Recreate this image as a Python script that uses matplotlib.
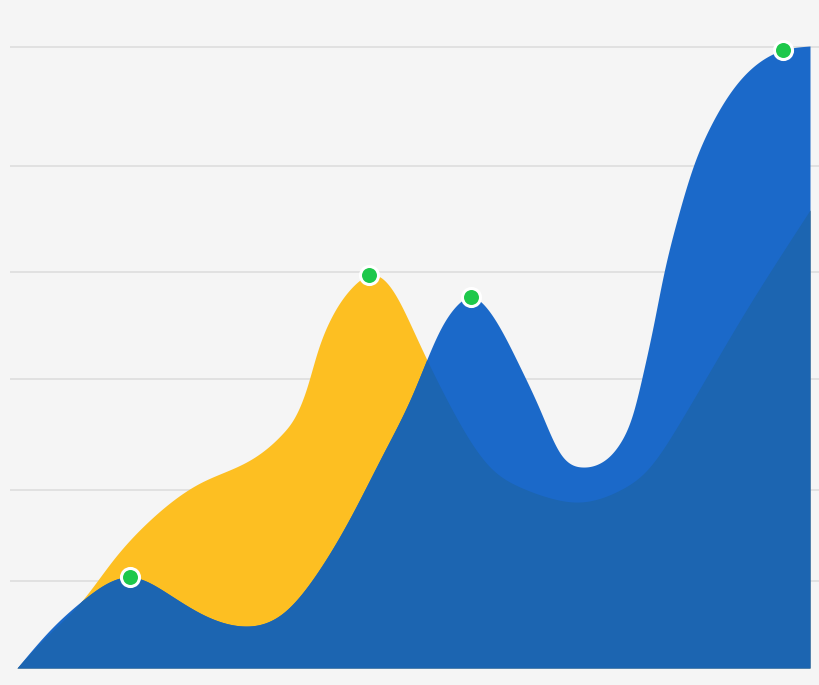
import numpy as np
import matplotlib
matplotlib.use("Agg")
import matplotlib.pyplot as plt

# Series values (x along the chart, y above the baseline)
blue_x = [0, 33, 66, 113, 150, 183, 226, 266, 300, 333, 366, 396, 423, 441, 454,
          468, 503, 523, 543, 565, 583, 603, 616, 626, 636, 646, 660, 676, 693,
          723, 750, 766, 793]
blue_y = [0, 38, 68, 91, 75, 55, 42, 55, 95, 150, 214, 275, 338, 364, 371,
          362, 301, 258, 215, 201, 205, 225, 255, 295, 341, 391, 448, 501, 541,
          588, 611, 618, 622]

yellow_x = [0, 31, 63, 96, 133, 183, 233, 266, 276, 290, 300, 313, 330, 343, 352,
            370, 383, 396, 410, 430, 473, 503, 530, 563, 603, 630, 663, 696, 728,
            760, 793]
yellow_y = [0, 33, 65, 108, 148, 185, 208, 235, 248, 281, 315, 348, 375, 388, 393,
            385, 365, 338, 308, 268, 201, 181, 171, 166, 178, 198, 246, 302, 356,
            407, 458]

# highlighted points
blue_marks = [113, 454, 766]
yellow_marks = [352]

grid_levels = [87, 178, 289, 396, 502, 621]


def spline(x, y, xs):
    # natural cubic spline, just for drawing the smooth outline
    x = np.asarray(x, float)
    y = np.asarray(y, float)
    n = len(x)
    h = np.diff(x)
    A = np.zeros((n, n))
    r = np.zeros(n)
    A[0, 0] = A[-1, -1] = 1
    for i in range(1, n - 1):
        A[i, i - 1] = h[i - 1]
        A[i, i] = 2 * (h[i - 1] + h[i])
        A[i, i + 1] = h[i]
        r[i] = 6 * ((y[i + 1] - y[i]) / h[i] - (y[i] - y[i - 1]) / h[i - 1])
    M = np.linalg.solve(A, r)
    i = np.clip(np.searchsorted(x, xs) - 1, 0, n - 2)
    a = x[i + 1] - xs
    b = xs - x[i]
    return (M[i] * a**3 / (6 * h[i]) + M[i + 1] * b**3 / (6 * h[i])
            + (y[i] / h[i] - M[i] * h[i] / 6) * a
            + (y[i + 1] / h[i] - M[i + 1] * h[i] / 6) * b)


xs = np.linspace(0, 793, 2000)
yb = spline(blue_x, blue_y, xs)
yy = spline(yellow_x, yellow_y, xs)

fig = plt.figure(figsize=(8.2, 6.85), dpi=100)
fig.patch.set_facecolor("#f5f5f5")
ax = fig.add_axes([10 / 820, 0, 810 / 820, 1])
ax.set_facecolor("#f5f5f5")

ax.fill_between(xs, 0, yy, color="#fdbf22", lw=0, zorder=2)
ax.fill_between(xs, 0, yb, color="#1b69c9", lw=0, zorder=3)
ax.fill_between(xs, 0, np.minimum(yb, yy), color="#1c65b1", lw=0, zorder=4)

# green dots on the peaks
bx = np.array(blue_marks, float)
yx = np.array(yellow_marks, float)
ax.plot(bx, spline(blue_x, blue_y, bx), "o", ms=13, mfc="#1ec84b", mec="white",
        mew=2.2, zorder=6)
ax.plot(yx, spline(yellow_x, yellow_y, yx), "o", ms=13, mfc="#1ec84b", mec="white",
        mew=2.2, zorder=6)

ax.set_xlim(-7, 803)
ax.set_ylim(-17, 668)
ax.set_yticks(grid_levels)
ax.grid(axis="y", color="#dddddd", lw=1.2, zorder=1)
ax.set_axisbelow(True)
ax.tick_params(left=False, bottom=False, labelleft=False, labelbottom=False)
for s in ax.spines.values():
    s.set_visible(False)

fig.savefig("out.png", dpi=100, facecolor=fig.get_facecolor())
